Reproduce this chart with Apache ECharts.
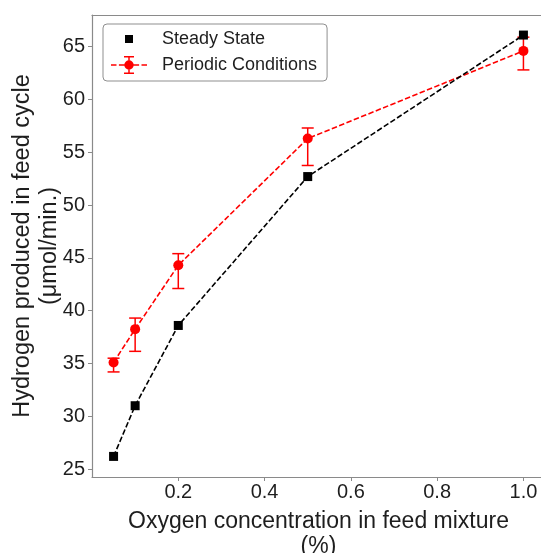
<!DOCTYPE html>
<html>
<head>
<meta charset="utf-8">
<script src="https://cdn.jsdelivr.net/npm/echarts@6/dist/echarts.min.js"></script>
<style>
html,body{margin:0;padding:0;background:#fff;overflow:hidden;}
#chart{width:541px;height:553px;}
</style>
</head>
<body>
<div id="chart"></div>
<script>
// ---- data ----
const oxygen = [0.05, 0.1, 0.2, 0.5, 1.0];
const steadyState = [26.2, 31.0, 38.6, 52.7, 66.1];
const periodic = [35.1, 38.25, 44.3, 56.3, 64.6];
const periodicLow = [34.2, 36.15, 42.1, 53.75, 62.8];
const periodicHigh = [35.5, 39.3, 45.4, 57.3, 65.9];
const xTicks = [0.2, 0.4, 0.6, 0.8, 1.0];
const yTicks = [25, 30, 35, 40, 45, 50, 55, 60, 65];
const seriesNames = ['Steady State', 'Periodic Conditions'];
const xTitle = 'Oxygen concentration in feed mixture\n(%)';
const yTitle = 'Hydrogen produced in feed cycle\n(\u03bcmol/min.)';

const FONT = '"Liberation Sans", Arial, sans-serif';
const AXIS_GRAY = '#8a8a8a';
const TEXT = '#1e1e1e';
const RED = '#ff0000';

const steadyData = oxygen.map((x, i) => [x, steadyState[i]]);
const periodicData = oxygen.map((x, i) => [x, periodic[i]]);
const errData = oxygen.map((x, i) => [x, periodic[i], periodicLow[i], periodicHigh[i]]);

// legend icons (36 x 18 boxes)
const specks = 'M0 0h0.01v0.01h-0.01z M35.99 17.99h0.01v0.01h-0.01z ';
const iconSquare = 'path://' + specks + 'M14 5h8v8h-8z';
const iconErr = 'path://' +
  'M0 8.25h5.5v1.5h-5.5z M7.9 8.25h5.5v1.5h-5.5z M22.6 8.25h5.5v1.5h-5.5z M30.5 8.25h5.5v1.5h-5.5z ' +
  'M17.25 0h1.5v18h-1.5z M13 0h10v1.5h-10z M13 16.5h10v1.5h-10z ' +
  'M13.3 9A4.7 4.7 0 1 1 22.7 9A4.7 4.7 0 1 1 13.3 9z';

const chart = echarts.init(document.getElementById('chart'), null, {renderer: 'canvas'});

const option = {
  backgroundColor: '#fff',
  animation: false,
  textStyle: {fontFamily: FONT},
  grid: {
    left: 92, right: -4, top: 15, bottom: 76,
    containLabel: false, outerBoundsMode: 'none',
    show: false
  },
  legend: {
    left: 103, top: 24,
    orient: 'vertical',
    selectedMode: false,
    itemWidth: 36, itemHeight: 18, itemGap: 8,
    padding: [6, 10, 7, 8],
    borderColor: '#8f8f8f', borderWidth: 1, borderRadius: 4,
    backgroundColor: '#fff',
    itemStyle: {borderWidth: 0},
    textStyle: {fontFamily: FONT, fontSize: 18, color: TEXT, padding: [0, 0, 0, 10]},
    data: [
      {name: seriesNames[0], icon: iconSquare},
      {name: seriesNames[1], icon: iconErr}
    ]
  },
  xAxis: [{
    type: 'value', min: 0, max: 1.05, position: 'bottom',
    name: xTitle, nameLocation: 'middle', nameGap: 32, nameMoveOverlap: false,
    nameTextStyle: {fontFamily: FONT, fontSize: 23, color: TEXT, lineHeight: 25},
    axisLine: {show: true, onZero: false, lineStyle: {color: AXIS_GRAY, width: 1.2}},
    axisTick: {show: true, length: 4, lineStyle: {color: AXIS_GRAY, width: 1}, customValues: xTicks},
    axisLabel: {fontFamily: FONT, fontSize: 20, color: TEXT, margin: 5, customValues: xTicks,
      formatter: v => Number(v).toFixed(1)},
    splitLine: {show: false}
  }, {
    type: 'value', min: 0, max: 1.05, position: 'top',
    axisLine: {show: true, onZero: false, lineStyle: {color: AXIS_GRAY, width: 1.2}},
    axisTick: {show: false}, axisLabel: {show: false}, splitLine: {show: false}
  }],
  yAxis: {
    type: 'value', min: 24.25, max: 68.0, position: 'left',
    name: yTitle, nameLocation: 'middle', nameRotate: 90, nameGap: 29, nameMoveOverlap: false,
    nameTextStyle: {fontFamily: FONT, fontSize: 23.5, color: TEXT, lineHeight: 27},
    axisLine: {show: true, onZero: false, lineStyle: {color: AXIS_GRAY, width: 1.2}},
    axisTick: {show: true, length: 4, lineStyle: {color: AXIS_GRAY, width: 1}, customValues: yTicks},
    axisLabel: {fontFamily: FONT, fontSize: 20, color: TEXT, margin: 7, customValues: yTicks},
    splitLine: {show: false}
  },
  series: [
    {
      name: seriesNames[1], type: 'line', data: periodicData, z: 2,
      symbol: 'circle', symbolSize: 10, color: RED,
      itemStyle: {color: RED, borderWidth: 0},
      lineStyle: {color: RED, width: 1.6, type: [5.5, 2.4]}
    },
    {
      name: seriesNames[1], type: 'custom', data: errData, z: 2,
      encode: {x: 0, y: [2, 3]},
      renderItem: function (params, api) {
        const x = api.value(0);
        const lo = api.coord([x, api.value(2)]);
        const hi = api.coord([x, api.value(3)]);
        const cap = 6;
        const st = {stroke: RED, lineWidth: 1.5};
        return {
          type: 'group',
          children: [
            {type: 'line', shape: {x1: lo[0], y1: lo[1], x2: hi[0], y2: hi[1]}, style: st},
            {type: 'line', shape: {x1: lo[0] - cap, y1: lo[1], x2: lo[0] + cap, y2: lo[1]}, style: st},
            {type: 'line', shape: {x1: hi[0] - cap, y1: hi[1], x2: hi[0] + cap, y2: hi[1]}, style: st}
          ]
        };
      }
    },
    {
      name: seriesNames[0], type: 'line', data: steadyData, z: 3,
      symbol: 'rect', symbolSize: 9, color: '#000',
      itemStyle: {color: '#000', borderWidth: 0},
      lineStyle: {color: '#000', width: 1.6, type: [5.5, 2.4]}
    }
  ]
};
chart.setOption(option);
</script>
</body>
</html>
